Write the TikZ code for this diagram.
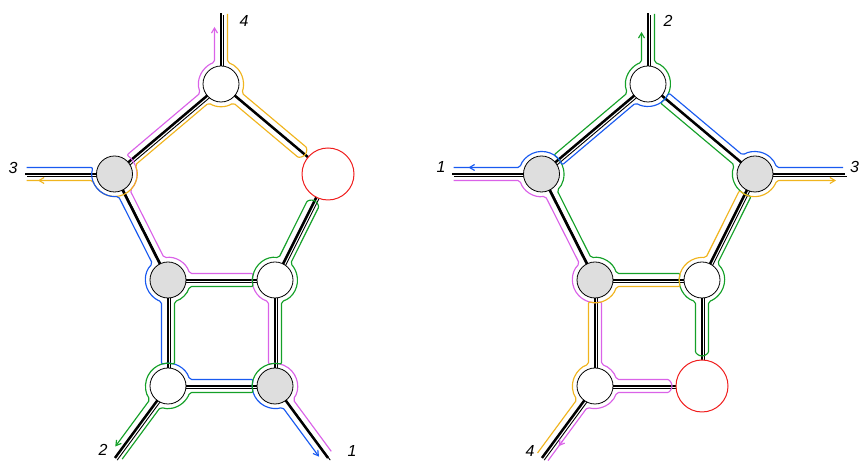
\documentclass[tikz,border=0pt]{standalone}
\usepackage{fontspec}
\setmainfont{Liberation Sans}
\usetikzlibrary{calc,arrows.meta}
\definecolor{cmag}{RGB}{218,98,232}
\definecolor{cyel}{RGB}{240,180,30}
\definecolor{cblu}{RGB}{25,90,240}
\definecolor{cgrn}{RGB}{20,160,40}
\definecolor{cred}{RGB}{240,30,30}
\definecolor{cgry}{RGB}{222,222,222}
\newcommand\radV{22.5}
\newcommand\offD{6.5}
\newcommand\vis[3]{-- ($(#1.center)+(#2:\radV)$) arc[start angle=#2,end angle=#3,radius=\radV]}
\newcommand\hp[4]{-- ($(#1.center)+(#2:36.5)+(#3:\offD)$) arc[start angle=#3,end angle=#4,radius=\offD]}
\newcommand\edg[2]{\draw[blk] (#1) -- (#2); \draw[blkthin] ($(#1)+(2.2,-2.2)$) -- ($(#2)+(2.2,-2.2)$);}
\pgfdeclarelayer{bg}
\pgfsetlayers{bg,main}
\begin{document}
\begin{tikzpicture}[x=1pt,y=1pt,
  blk/.style={line width=2.5pt,black},
  blkthin/.style={line width=0.9pt,black},
  cpath/.style={line width=1.15pt,line join=round,rounded corners=2pt},
  wnode/.style={circle,draw=black,line width=0.8pt,fill=white,minimum size=36pt,inner sep=0pt},
  gnode/.style={wnode,fill=cgry},
  rnode/.style={circle,draw=cred,line width=1pt,fill=white,minimum size=52pt,inner sep=0pt},
  lab/.style={font=\fontsize{16}{16}\selectfont\itshape,inner sep=0pt},
  tip/.style={-{Straight Barb[length=5pt,width=6pt]}}
]
\useasboundingbox (0,0) rectangle (860,462);
% left diagram nodes
\node[wnode] (aT) at (221,378) {};
\node[gnode] (aL) at (114.5,288) {};
\node[rnode] (aR) at (328,288) {};
\node[gnode] (aML) at (168,182) {};
\node[wnode] (aMR) at (275,182) {};
\node[wnode] (aBL) at (168,76) {};
\node[gnode] (aBR) at (275,76) {};
% right diagram nodes
\node[wnode] (bT) at (648,378) {};
\node[gnode] (bL) at (541.5,288) {};
\node[gnode] (bR) at (755,288) {};
\node[gnode] (bML) at (595,182) {};
\node[wnode] (bMR) at (702,182) {};
\node[wnode] (bBL) at (595,76) {};
\node[rnode] (bBR) at (702,76) {};
% leg ends
\coordinate (aTe) at ($(aT.center)+(90:71)$);
\coordinate (aLe) at ($(aL.center)+(180:89.5)$);
\coordinate (aBLe) at ($(aBL.center)+(233.6:89.4)$);
\coordinate (aBRe) at ($(aBR.center)+(306.4:89.4)$);
\coordinate (bTe) at ($(bT.center)+(90:71)$);
\coordinate (bLe) at ($(bL.center)+(180:89.5)$);
\coordinate (bRe) at ($(bR.center)+(0:90)$);
\coordinate (bBLe) at ($(bBL.center)+(233.6:89.4)$);
% labels
\node[lab] (la4) at (244,441) {4};
\node[lab] (la3) at (13,294) {3};
\node[lab] (la2) at (103,12) {2};
\node[lab] (la1) at (352,11) {1};
\node[lab] (lb2) at (668,441) {2};
\node[lab] (lb1) at (441,295) {1};
\node[lab] (lb3) at (854.5,295) {3};
\node[lab] (lb4) at (530,11) {4};
\begin{pgfonlayer}{bg}
% edges left
\edg{aT.center}{aL.center}
\edg{aT.center}{aR.center}
\edg{aL.center}{aML.center}
\edg{aR.center}{aMR.center}
\edg{aML.center}{aMR.center}
\edg{aML.center}{aBL.center}
\edg{aMR.center}{aBR.center}
\edg{aBL.center}{aBR.center}
\edg{aT.center}{aTe}
\edg{aL.center}{aLe}
\edg{aBL.center}{aBLe}
\edg{aBR.center}{aBRe}
% edges right
\edg{bT.center}{bL.center}
\edg{bT.center}{bR.center}
\edg{bL.center}{bML.center}
\edg{bR.center}{bMR.center}
\edg{bML.center}{bMR.center}
\edg{bML.center}{bBL.center}
\edg{bMR.center}{bBR.center}
\edg{bBL.center}{bBR.center}
\edg{bT.center}{bTe}
\edg{bL.center}{bLe}
\edg{bR.center}{bRe}
\edg{bBL.center}{bBLe}
% left magenta 1 -> 4
\draw[cpath,cmag,tip] ($(aBR.center)+(306.4:86)+(36.4:\offD)$)
  \vis{aBR}{323.2}{466.8}
  \vis{aMR}{253.2}{163.2}
  \vis{aML}{16.8}{100}
  \vis{aL}{313.6}{417}
  \vis{aT}{203.4}{106.8}
  -- ($(aT.center)+(90:57)+(180:\offD)$);
% left yellow 4 -> 3
\draw[cpath,cyel] ($(aT.center)+(90:70)+(0:\offD)$)
  \vis{aT}{73.2}{-23.3}
  \hp{aR}{139.9}{49.9}{-130.1}
  \vis{aT}{303.1}{237}
  \vis{aL}{23.4}{-163.2}
  -- ($(aL.center)+(180:88)+(270:\offD)$);
\draw[cpath,cyel,tip] ($(aL.center)+(180:70)+(270:\offD)$) -- ($(aL.center)+(180:76.5)+(270:\offD)$);
% left blue 3 -> 1
\draw[cpath,cblu,tip] ($(aL.center)+(180:88)+(90:\offD)$)
  \vis{aL}{163.2}{280}
  \vis{aML}{133.6}{253.2}
  \vis{aBL}{106.8}{16.8}
  \vis{aBR}{163.2}{289.6}
  -- ($(aBR.center)+(306.4:83)+(216.4:\offD)$);
% left green 2 -> 2
\draw[cpath,cgrn,tip] ($(aBL.center)+(233.6:86)+(323.6:\offD)$)
  \vis{aBL}{250.4}{343.2}
  \vis{aBR}{196.8}{73.2}
  \vis{aMR}{286.8}{406.6}
  \hp{aR}{243.4}{333.4}{513.4}
  \vis{aMR}{80.2}{196.8}
  \vis{aML}{343.2}{286.8}
  \vis{aBL}{73.2}{216.8}
  -- ($(aBL.center)+(233.6:80)+(143.6:\offD)$);
% right green 2 -> 2
\draw[cpath,cgrn,tip] ($(bT.center)+(90:70)+(0:\offD)$)
  \vis{bT}{73.2}{-56.9}
  \vis{bR}{156.7}{260.2}
  \vis{bMR}{46.6}{-73.2}
  \hp{bBR}{90}{0}{-180}
  \vis{bMR}{253.2}{163.2}
  \vis{bML}{16.8}{100}
  \vis{bL}{313.6}{417}
  \vis{bT}{203.4}{106.8}
  -- ($(bT.center)+(90:52)+(180:\offD)$);
% right blue 3 -> 1
\draw[cpath,cblu] ($(bR.center)+(0:88)+(90:\offD)$)
  \vis{bR}{16.8}{123.1}
  \vis{bT}{336.7}{237}
  \vis{bL}{23.4}{163.2}
  -- ($(bL.center)+(180:88)+(90:\offD)$);
\draw[cpath,cblu,tip] ($(bL.center)+(180:66)+(90:\offD)$) -- ($(bL.center)+(180:73)+(90:\offD)$);
% right magenta 1 -> 4
\draw[cpath,cmag] ($(bL.center)+(180:88)+(270:\offD)$)
  \vis{bL}{196.8}{280}
  \vis{bML}{133.6}{286.8}
  \vis{bBL}{73.2}{16.8}
  \hp{bBR}{180}{90}{-90}
  \vis{bBL}{343.2}{250.4}
  -- ($(bBL.center)+(233.6:88)+(323.6:\offD)$);
\draw[cpath,cmag,tip] ($(bBL.center)+(233.6:63)+(323.6:\offD)$) -- ($(bBL.center)+(233.6:70)+(323.6:\offD)$);
% right yellow 4 -> 3
\draw[cpath,cyel,tip] ($(bBL.center)+(233.6:88)+(143.6:\offD)$)
  \vis{bBL}{216.8}{106.8}
  \vis{bML}{253.2}{343.2}
  \vis{bMR}{196.8}{80.2}
  \vis{bR}{226.6}{343.2}
  -- ($(bR.center)+(0:81)+(270:\offD)$);
\end{pgfonlayer}
\end{tikzpicture}
\end{document}
